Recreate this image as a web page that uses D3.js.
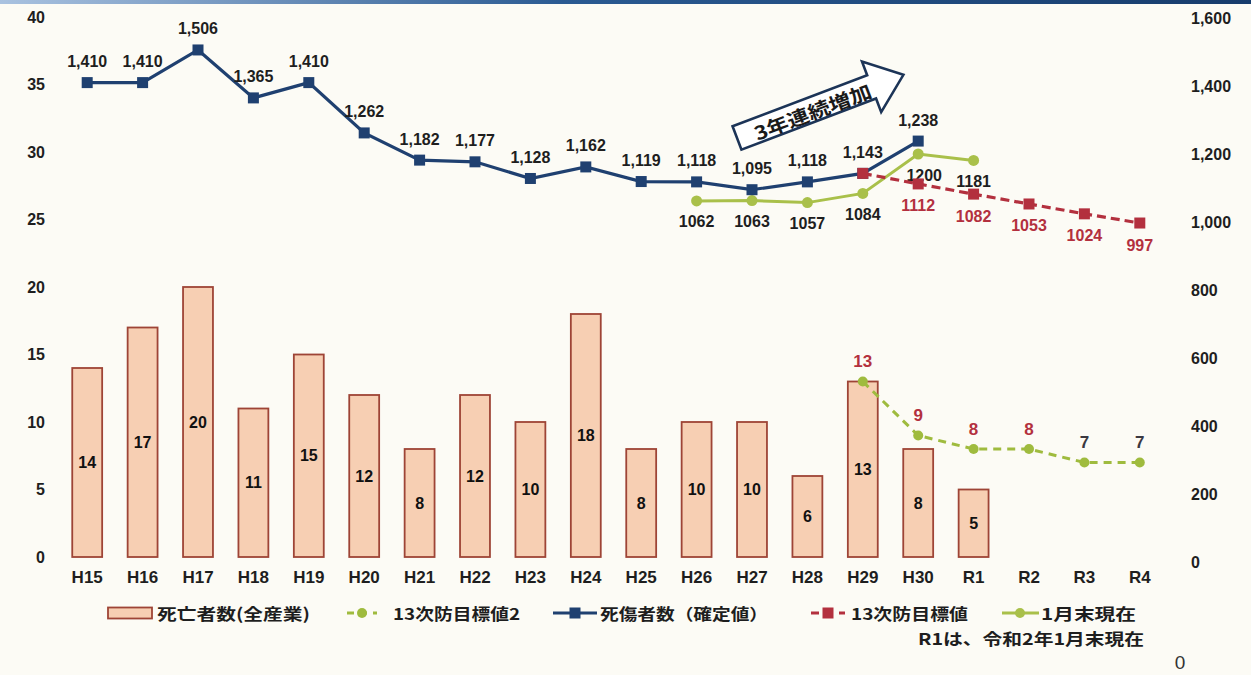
<!DOCTYPE html>
<html lang="ja">
<head>
<meta charset="utf-8">
<script src="https://cdn.jsdelivr.net/npm/d3@7"></script>
<style>
  html, body { margin: 0; padding: 0; background: #fcfbf5; }
  svg { display: block; }
  .num { font-family: "Liberation Sans", Arial, sans-serif; font-weight: bold; }
  .jp { font-family: "Noto Sans CJK JP", sans-serif; font-weight: bold; }
</style>
</head>
<body>
<svg id="chart" width="1251" height="675"></svg>
<script>
// Fiscal years on the x axis
const categories = ["H15","H16","H17","H18","H19","H20","H21","H22","H23","H24",
                    "H25","H26","H27","H28","H29","H30","R1","R2","R3","R4"];

// 死亡者数（全産業） — left axis, bars (H15〜R1)
const deathYears = categories.slice(0, 17);
const deaths = [14,17,20,11,15,12,8,12,10,18,8,10,10,6,13,8,5];

// 死傷者数（確定値） — right axis (H15〜H30)
const casualtyYears = categories.slice(0, 16);
const casualties = [1410,1410,1506,1365,1410,1262,1182,1177,1128,1162,1119,1118,1095,1118,1143,1238];

// 13次防目標値 — right axis (H29〜R4)
const targetYears = categories.slice(14);
const target = [1143,1112,1082,1053,1024,997];

// 1月末現在 — right axis (H26〜R1)
const janYears = categories.slice(11, 17);
const janEnd = [1062,1063,1057,1084,1200,1181];

// 13次防目標値2 — left axis (H29〜R4)
const target2Years = categories.slice(14);
const target2 = [13,9,8,8,7,7];

// Axis tick values
const leftTicks = [0,5,10,15,20,25,30,35,40];
const rightTicks = [0,200,400,600,800,1000,1200,1400,1600];

const svg = d3.select("#chart");
const W = 1251, H = 675;

const C = {
  bg: "#fcfbf5",
  barFill: "#f7cfb3",
  barStroke: "#9e4436",
  navy: "#1f4070",
  red: "#b3303e",
  green: "#a9c04a",
  greenDash: "#9fbb3e",
  text: "#1e1e1e"
};

svg.append("rect").attr("width", W).attr("height", H).attr("fill", C.bg);

// thin header band along the top edge
const defs = svg.append("defs");
const grad = defs.append("linearGradient").attr("id", "band");
grad.append("stop").attr("offset", "0%").attr("stop-color", "#a9c2e0");
grad.append("stop").attr("offset", "45%").attr("stop-color", "#2a5a92");
grad.append("stop").attr("offset", "100%").attr("stop-color", "#173c6c");
svg.append("rect").attr("x", 0).attr("y", 0).attr("width", W).attr("height", 4).attr("fill", "url(#band)");

// Scales
const x = d3.scaleBand().domain(categories).range([59.5, 1167.5])
  .paddingInner(0.46).paddingOuter(0.23);
const cx = c => x(c) + x.bandwidth() / 2;
const yL = d3.scaleLinear().domain([0, 40]).range([557, 17]);
const yR = d3.scaleLinear().domain([0, 1600]).range([562, 18]);

// Axes (labels only)
const axL = svg.append("g").attr("transform", "translate(45,0)")
  .call(d3.axisLeft(yL).tickValues(leftTicks).tickSize(0).tickPadding(0));
const axR = svg.append("g").attr("transform", "translate(1191,0)")
  .call(d3.axisRight(yR).tickValues(rightTicks).tickSize(0).tickPadding(0).tickFormat(d3.format(",")));
const axX = svg.append("g").attr("transform", "translate(0,571)")
  .call(d3.axisBottom(x).tickSize(0).tickPadding(0));
[axL, axR, axX].forEach(g => {
  g.select(".domain").remove();
  g.selectAll("text").attr("font-size", 16).attr("fill", C.text)
    .attr("font-family", "Liberation Sans, Arial, sans-serif").attr("font-weight", "bold");
});
axX.selectAll("text").attr("font-size", 17);

// Bars
const barData = deathYears.map((c, i) => ({ c, v: deaths[i] }));
svg.append("g").selectAll("rect").data(barData).join("rect")
  .attr("x", d => x(d.c))
  .attr("y", d => yL(d.v))
  .attr("width", x.bandwidth())
  .attr("height", d => yL(0) - yL(d.v))
  .attr("fill", C.barFill)
  .attr("stroke", C.barStroke)
  .attr("stroke-width", 1.8);

svg.append("g").selectAll("text").data(barData).join("text")
  .attr("class", "num")
  .attr("x", d => cx(d.c))
  .attr("y", d => (yL(d.v) + yL(0)) / 2)
  .attr("text-anchor", "middle").attr("dominant-baseline", "central")
  .attr("font-size", 16).attr("fill", "#111")
  .text(d => d.v);

// Line helpers
function series(years, vals, y) { return years.map((c, i) => ({ c, v: vals[i], y: y(vals[i]) })); }
const line = d3.line().x(d => cx(d.c)).y(d => d.y);

const t2 = series(target2Years, target2, yL);
const jan = series(janYears, janEnd, yR);
const cas = series(casualtyYears, casualties, yR);
const tgt = series(targetYears, target, yR);

// 13次防目標値2 (dashed green, left axis)
svg.append("path").datum(t2).attr("d", line).attr("fill", "none")
  .attr("stroke", C.greenDash).attr("stroke-width", 3).attr("stroke-dasharray", "8,6");
svg.append("g").selectAll("circle").data(t2).join("circle")
  .attr("cx", d => cx(d.c)).attr("cy", d => d.y).attr("r", 5).attr("fill", C.greenDash);
svg.append("g").selectAll("text").data(t2).join("text")
  .attr("class", "num")
  .attr("x", d => cx(d.c)).attr("y", d => d.y - 20)
  .attr("text-anchor", "middle").attr("dominant-baseline", "central")
  .attr("font-size", 17)
  .attr("fill", d => d.v < 8 ? "#3a3840" : C.red)
  .text(d => d.v);

// 1月末現在 (solid green, right axis)
svg.append("path").datum(jan).attr("d", line).attr("fill", "none")
  .attr("stroke", C.green).attr("stroke-width", 3);
svg.append("g").selectAll("circle").data(jan).join("circle")
  .attr("cx", d => cx(d.c)).attr("cy", d => d.y).attr("r", 5.5).attr("fill", C.green);
svg.append("g").selectAll("text").data(jan).join("text")
  .attr("class", "num")
  .attr("x", d => cx(d.c) + (d.c === "H30" ? 6 : 0)).attr("y", d => d.y + 21)
  .attr("text-anchor", "middle").attr("dominant-baseline", "central")
  .attr("font-size", 16).attr("fill", C.text)
  .text(d => d.v);

// 死傷者数（確定値） (navy, right axis)
svg.append("path").datum(cas).attr("d", line).attr("fill", "none")
  .attr("stroke", C.navy).attr("stroke-width", 3.2);
svg.append("g").selectAll("rect").data(cas).join("rect")
  .attr("x", d => cx(d.c) - 5.5).attr("y", d => d.y - 5.5)
  .attr("width", 11).attr("height", 11).attr("fill", C.navy);
svg.append("g").selectAll("text").data(cas).join("text")
  .attr("class", "num")
  .attr("x", d => cx(d.c)).attr("y", d => d.y - 21)
  .attr("text-anchor", "middle").attr("dominant-baseline", "central")
  .attr("font-size", 16).attr("fill", C.text)
  .text(d => d3.format(",")(d.v));

// 13次防目標値 (dashed red, right axis)
svg.append("path").datum(tgt).attr("d", line).attr("fill", "none")
  .attr("stroke", C.red).attr("stroke-width", 3.2).attr("stroke-dasharray", "9,5");
svg.append("g").selectAll("rect").data(tgt).join("rect")
  .attr("x", d => cx(d.c) - 5.5).attr("y", d => d.y - 5.5)
  .attr("width", 11).attr("height", 11).attr("fill", C.red);
svg.append("g").selectAll("text").data(tgt.slice(1)).join("text")
  .attr("class", "num")
  .attr("x", d => cx(d.c)).attr("y", d => d.y + 22)
  .attr("text-anchor", "middle").attr("dominant-baseline", "central")
  .attr("font-size", 16).attr("fill", C.red)
  .text(d => d.v);

// Callout arrow: 3年連続増加
const arrow = svg.append("g").attr("transform", "translate(737,138) rotate(-20.8)");
arrow.append("path")
  .attr("d", "M0,-12.5 L144,-12.5 L144,-27 L178,0 L144,27 L144,12.5 L0,12.5 Z")
  .attr("fill", "#ffffff").attr("stroke", "#1c3457").attr("stroke-width", 2.6)
  .attr("stroke-linejoin", "miter");
arrow.append("text").attr("class", "jp")
  .attr("x", 80).attr("y", 1.5)
  .attr("text-anchor", "middle").attr("dominant-baseline", "central")
  .attr("font-size", 19).attr("fill", "#1a1a1a")
  .attr("textLength", 124).attr("lengthAdjust", "spacingAndGlyphs")
  .text("3年連続増加");

// Legend
const ly = 613;
const lg = svg.append("g");
lg.append("rect").attr("x", 108).attr("y", ly - 5.5).attr("width", 44).attr("height", 11)
  .attr("fill", C.barFill).attr("stroke", C.barStroke).attr("stroke-width", 1.8);
// dashed green with circle
lg.append("line").attr("x1", 347).attr("x2", 377).attr("y1", ly).attr("y2", ly)
  .attr("stroke", C.greenDash).attr("stroke-width", 3).attr("stroke-dasharray", "7,6");
lg.append("circle").attr("cx", 362).attr("cy", ly).attr("r", 5).attr("fill", C.greenDash);
// navy with square
lg.append("line").attr("x1", 553).attr("x2", 597).attr("y1", ly).attr("y2", ly)
  .attr("stroke", C.navy).attr("stroke-width", 3.2);
lg.append("rect").attr("x", 575 - 5.5).attr("y", ly - 5.5).attr("width", 11).attr("height", 11).attr("fill", C.navy);
// dashed red with square
lg.append("line").attr("x1", 811).attr("x2", 845).attr("y1", ly).attr("y2", ly)
  .attr("stroke", C.red).attr("stroke-width", 3.2).attr("stroke-dasharray", "8,6");
lg.append("rect").attr("x", 828 - 5.5).attr("y", ly - 5.5).attr("width", 11).attr("height", 11).attr("fill", C.red);
// solid green with circle
lg.append("line").attr("x1", 1002).attr("x2", 1039).attr("y1", ly).attr("y2", ly)
  .attr("stroke", C.green).attr("stroke-width", 3);
lg.append("circle").attr("cx", 1020).attr("cy", ly).attr("r", 5).attr("fill", C.green);

const legendTexts = [
  { x: 157, w: 153, t: "死亡者数(全産業)" },
  { x: 393, w: 127, t: "13次防目標値2" },
  { x: 600, w: 168, t: "死傷者数（確定値）" },
  { x: 851, w: 117, t: "13次防目標値" },
  { x: 1041, w: 95, t: "1月末現在" }
];
lg.selectAll("text.item").data(legendTexts).join("text")
  .attr("class", "jp item")
  .attr("x", d => d.x).attr("y", ly)
  .attr("dominant-baseline", "central")
  .attr("font-size", 16).attr("fill", C.text)
  .attr("textLength", d => d.w).attr("lengthAdjust", "spacingAndGlyphs")
  .text(d => d.t);

svg.append("text").attr("class", "jp")
  .attr("x", 918).attr("y", 638).attr("dominant-baseline", "central")
  .attr("font-size", 16).attr("fill", C.text)
  .attr("textLength", 226).attr("lengthAdjust", "spacingAndGlyphs")
  .text("R1は、令和2年1月末現在");

svg.append("text")
  .attr("x", 1180).attr("y", 662).attr("text-anchor", "middle").attr("dominant-baseline", "central")
  .attr("font-family", "Liberation Sans, Arial, sans-serif")
  .attr("font-size", 19).attr("fill", "#333")
  .text("0");
</script>
</body>
</html>
